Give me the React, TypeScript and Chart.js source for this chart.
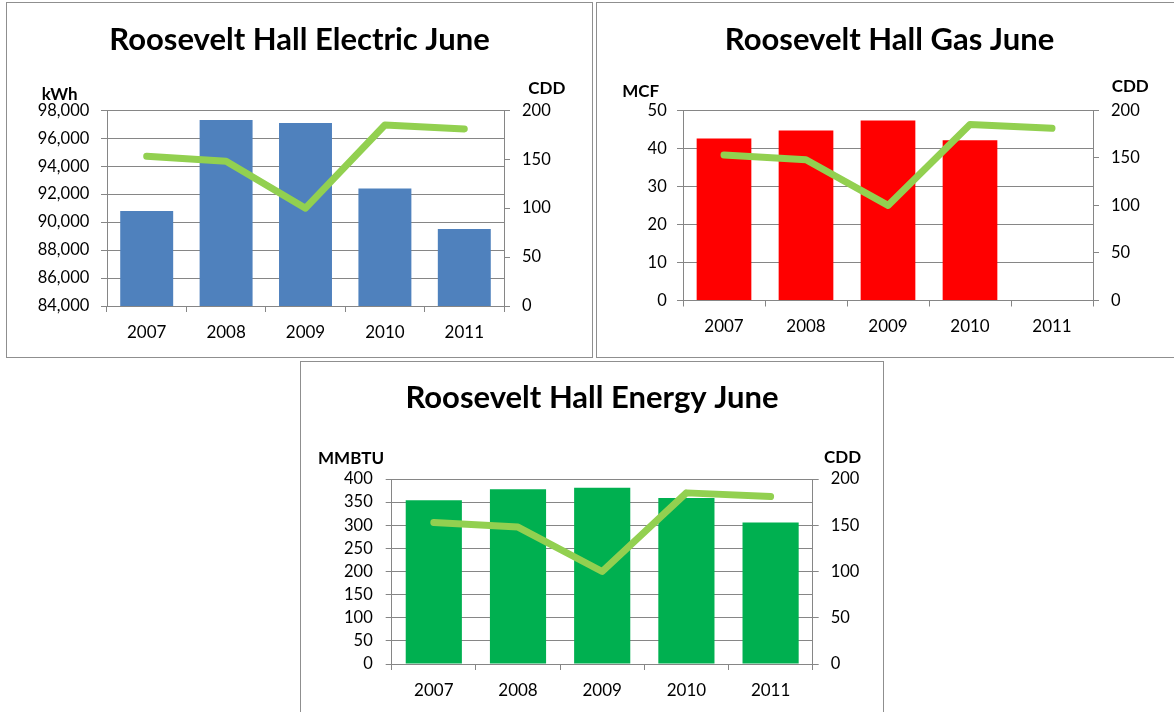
import React, { useEffect, useRef } from "react";
import { Chart, registerables } from "chart.js";

Chart.register(...registerables);

// ---------- data ----------
const years = ["2007", "2008", "2009", "2010", "2011"];
const electricKwh = [90800, 97300, 97100, 92400, 89500];
const gasMcf: (number | null)[] = [42.6, 44.7, 47.3, 42.1, null];
const energyMmbtu = [354, 378, 381, 359, 306];
const cddValues = [153, 148, 100, 185, 181];

const electricTicks = [84000, 98000, 2000];
const gasTicks = [0, 50, 10];
const energyTicks = [0, 400, 50];
const cddTicks = [0, 200, 50];

// ---------- styles ----------
const FONT = "Lato, 'Open Sans', sans-serif";
const GRID = "#868686";
const LINE = "#92D050";

type Spec = {
  title: string;
  unit: string;
  values: (number | null)[];
  ticks: number[];
  color: string;
  format: (v: number) => string;
  box: { left: number; top: number; width: number; height: number };
  area: { left: number; right: number; top: number; bottom: number };
  titleBase: number;
  unitPos: [number, number];
  cddPos: [number, number];
  leftPad: number;
};

const specs: Spec[] = [
  {
    title: "Roosevelt Hall Electric June",
    unit: "kWh",
    values: electricKwh,
    ticks: electricTicks,
    color: "#4F81BD",
    format: (v) => v.toLocaleString("en-US"),
    box: { left: 6, top: 2, width: 587, height: 356 },
    area: { left: 100, right: 497, top: 107.3, bottom: 303 },
    titleBase: 47,
    unitPos: [34.7, 97],
    cddPos: [521.3, 91],
    leftPad: 11.7,
  },
  {
    title: "Roosevelt Hall Gas June",
    unit: "MCF",
    values: gasMcf,
    ticks: gasTicks,
    color: "#FF0000",
    format: (v) => String(v),
    box: { left: 596, top: 2, width: 587, height: 356 },
    area: { left: 86, right: 496, top: 107.3, bottom: 297.5 },
    titleBase: 47,
    unitPos: [25.3, 94.3],
    cddPos: [514.7, 89.3],
    leftPad: 10.3,
  },
  {
    title: "Roosevelt Hall Energy June",
    unit: "MMBTU",
    values: energyMmbtu,
    ticks: energyTicks,
    color: "#00B050",
    format: (v) => String(v),
    box: { left: 300, top: 361, width: 584, height: 360 },
    area: { left: 90.7, right: 511.7, top: 117, bottom: 302 },
    titleBase: 45.7,
    unitPos: [17, 102.3],
    cddPos: [523, 100.7],
    leftPad: 13,
  },
];

function ComboChart({ spec }: { spec: Spec }) {
  const ref = useRef<HTMLCanvasElement | null>(null);
  const W = spec.box.width - 2;
  const H = spec.box.height - 2;

  useEffect(() => {
    if (!ref.current) return;
    const textPlugin = {
      id: "textPlugin",
      afterDraw(chart: any) {
        const ctx = chart.ctx;
        ctx.save();
        ctx.fillStyle = "#000";
        ctx.textBaseline = "alphabetic";
        ctx.font = `bold 31px ${FONT}`;
        ctx.textAlign = "center";
        ctx.fillText(spec.title, chart.width / 2, spec.titleBase);
        ctx.font = `bold 17px ${FONT}`;
        ctx.textAlign = "left";
        ctx.fillText(spec.unit, spec.unitPos[0], spec.unitPos[1]);
        ctx.fillText("CDD", spec.cddPos[0], spec.cddPos[1]);
        ctx.restore();
      },
    };

    const chart = new Chart(ref.current, {
      type: "bar",
      data: {
        labels: years,
        datasets: [
          {
            type: "line",
            data: cddValues,
            yAxisID: "y1",
            borderColor: LINE,
            backgroundColor: LINE,
            borderWidth: 7,
            pointRadius: 0,
            tension: 0,
            borderCapStyle: "round",
            borderJoinStyle: "round",
            order: 0,
          } as any,
          {
            type: "bar",
            data: spec.values,
            yAxisID: "y",
            backgroundColor: spec.color,
            barPercentage: 0.667,
            categoryPercentage: 1,
            order: 1,
          } as any,
        ],
      },
      options: {
        responsive: false,
        animation: false,
        events: [],
        layout: { padding: { top: spec.area.top, left: 0, right: 0, bottom: 0 } },
        plugins: {
          legend: { display: false },
          tooltip: { enabled: false },
          title: { display: false },
        },
        scales: {
          x: {
            type: "category",
            offset: true,
            grid: {
              offset: true,
              drawOnChartArea: false,
              drawTicks: true,
              tickLength: 6,
              color: GRID,
            },
            border: { color: GRID },
            ticks: {
              color: "#000",
              font: { family: FONT, size: 17 },
              padding: 10,
              maxRotation: 0,
              autoSkip: false,
            },
            afterFit: (s: any) => {
              s.height = H - spec.area.bottom;
            },
          },
          y: {
            position: "left",
            min: spec.ticks[0],
            max: spec.ticks[1],
            grid: { color: GRID, tickLength: 6, drawTicks: true },
            border: { color: GRID },
            ticks: {
              stepSize: spec.ticks[2],
              color: "#000",
              font: { family: FONT, size: 16.5 },
              padding: spec.leftPad,
              callback: (v: any) => spec.format(Number(v)),
            },
            afterFit: (s: any) => {
              s.width = spec.area.left;
            },
          },
          y1: {
            position: "right",
            min: cddTicks[0],
            max: cddTicks[1],
            grid: { drawOnChartArea: false, tickLength: 6, drawTicks: true, color: GRID },
            border: { color: GRID },
            ticks: {
              stepSize: cddTicks[2],
              color: "#000",
              font: { family: FONT, size: 16.5 },
              padding: 12,
            },
            afterFit: (s: any) => {
              s.width = W - spec.area.right;
            },
          },
        },
      } as any,
      plugins: [textPlugin],
    });
    return () => chart.destroy();
  }, [spec, W, H]);

  return (
    <div
      style={{
        position: "absolute",
        left: spec.box.left,
        top: spec.box.top,
        width: spec.box.width,
        height: spec.box.height,
        border: "1px solid #8f8f8f",
        boxSizing: "border-box",
        background: "#fff",
      }}
    >
      <canvas ref={ref} width={W} height={H} style={{ display: "block" }} />
    </div>
  );
}

export default function App() {
  return (
    <div
      style={{
        position: "fixed",
        left: 0,
        top: 0,
        width: 1174,
        height: 712,
        overflow: "hidden",
        background: "#fff",
      }}
    >
      {specs.map((s) => (
        <ComboChart key={s.title} spec={s} />
      ))}
    </div>
  );
}
